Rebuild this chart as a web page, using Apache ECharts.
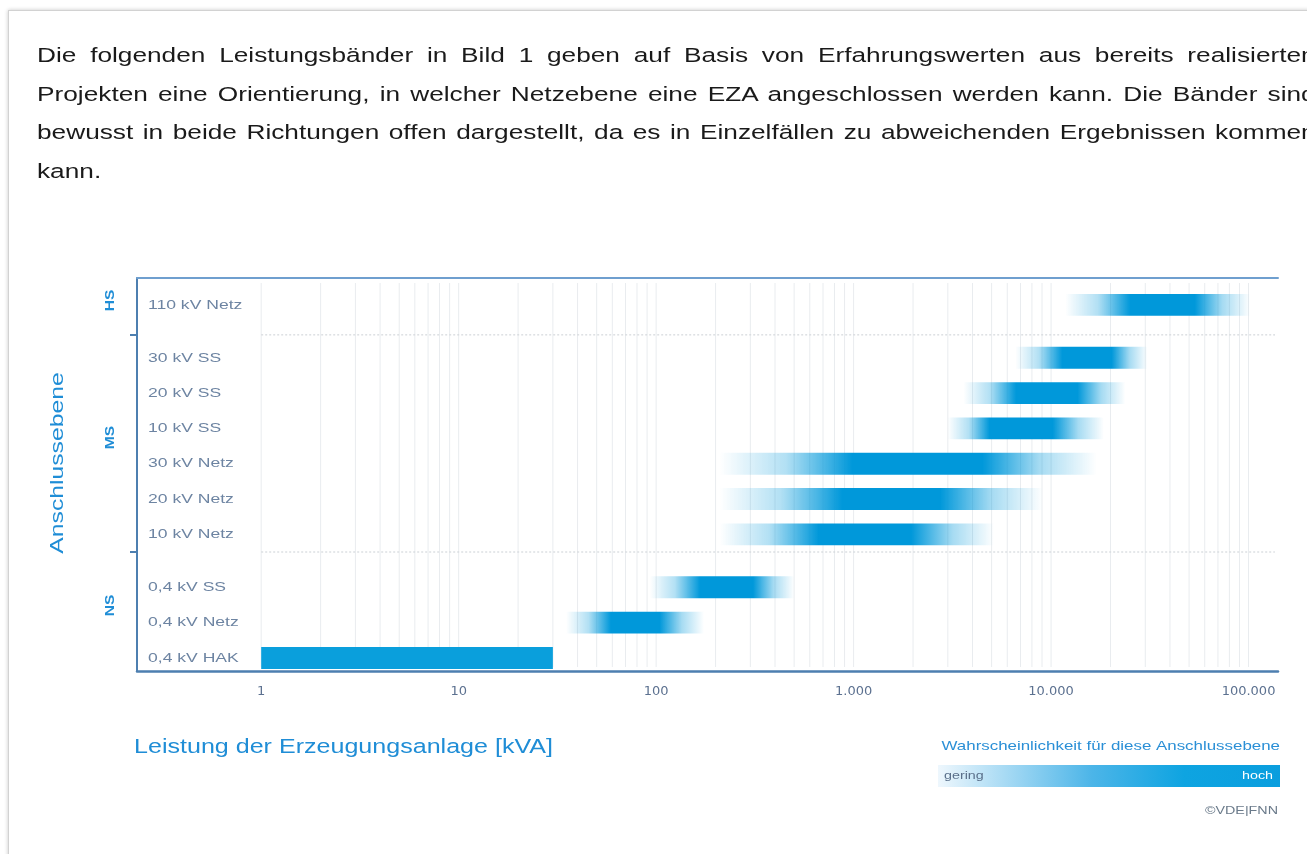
<!DOCTYPE html>
<html><head><meta charset="utf-8">
<script src="https://cdn.jsdelivr.net/npm/echarts@6/dist/echarts.min.js"></script>
<style>
html,body{margin:0;padding:0;width:1307px;height:854px;overflow:hidden;background:#fff;}
#frame{position:absolute;left:8px;top:10px;width:1400px;height:900px;border:1px solid #d2d2d2;box-shadow:0 0 4px rgba(0,0,0,0.22);z-index:0;}
#chart{position:absolute;left:0;top:0;width:1307px;height:854px;z-index:1;}
#para{position:absolute;left:37px;top:36px;width:999px;font-family:"Liberation Sans",Arial,sans-serif;font-size:20.5px;line-height:38.5px;color:#1a1a1a;z-index:2;transform:scaleX(1.28);transform-origin:0 0;}
#para div{text-align:justify;text-align-last:justify;white-space:nowrap;}
#para div.last{text-align-last:left;}
</style></head>
<body>
<div id="frame"></div>
<div id="chart"></div>
<div id="para">
<div>Die folgenden Leistungsbänder in Bild 1 geben auf Basis von Erfahrungswerten aus bereits realisierten</div>
<div>Projekten eine Orientierung, in welcher Netzebene eine EZA angeschlossen werden kann. Die Bänder sind</div>
<div>bewusst in beide Richtungen offen dargestellt, da es in Einzelfällen zu abweichenden Ergebnissen kommen</div>
<div class="last">kann.</div>
</div>
<script>
// ---- data ----
const rowsNS = ['0,4 kV HAK', '0,4 kV Netz', '0,4 kV SS'];
const rowsMS = ['10 kV Netz', '20 kV Netz', '30 kV Netz', '10 kV SS', '20 kV SS', '30 kV SS'];
const rowsHS = ['110 kV Netz'];
const groupNames = ['NS', 'MS', 'HS'];
// band extents in kVA (fade-in start, full intensity from, full intensity to, fade-out end)
const bandStart    = [1,  35,  93,  210,  210,  210,  3000,  3600,  6600, 11800];
const bandCoreFrom = [1,  59, 167,  665,  875,  985,  4880,  6650, 11400, 25200];
const bandCoreTo   = [30, 104, 310, 1960, 2750, 4500, 10200, 13600, 20300, 53500];
const bandEnd      = [30, 175, 500, 5150, 9100, 17000, 18500, 23800, 30800, 102000];
const xTickValues  = [1, 10, 100, 1000, 10000, 100000];

// ---- layout constants ----
const xAxisMinKVA = 0.235, xAxisMaxKVA = 141000;
const yMin = -0.37, yMax = 10.76;
const separatorPos = [3.0, 9.15];

// ---- derived ----
const groups = [rowsNS, rowsMS, rowsHS];
const rowPos = [], rowName = [];
let idx = 0;
groups.forEach((g, gi) => {
  g.forEach(n => { rowPos.push(idx + 0.5 * gi); rowName.push(n); idx++; });
});
const lg = v => Math.log10(v);
const xMin = lg(xAxisMinKVA), xMax = lg(xAxisMaxKVA);
const fmt = n => String(n).replace(/\B(?=(\d{3})+(?!\d))/g, '.');

const bandData = rowPos.map((p, i) => [p, lg(bandStart[i]), lg(bandCoreFrom[i]), lg(bandCoreTo[i]), lg(bandEnd[i])]);
const labelData = rowPos.map((p, i) => [p, i]);
const gridVals = [];
for (let k = 0; k < 5; k++) for (let m = 1; m < 10; m++) gridVals.push([lg(m * Math.pow(10, k))]);
gridVals.push([lg(100000)]);

const FONT = '"Liberation Sans", Arial, sans-serif';
const SX = 1.3;
const AXIS = '#4d7fb0';
const BLUE = '#1f8dd6';

const chart = echarts.init(document.getElementById('chart'), null, {renderer: 'canvas'});
const option = {
  animation: false,
  backgroundColor: 'transparent',
  grid: {left: 137, right: 29, top: 278, bottom: 183, containLabel: false},
  xAxis: [{
    type: 'value', min: xMin, max: xMax,
    axisLine: {show: true, onZero: false, lineStyle: {color: AXIS, width: 2.5}},
    axisTick: {show: false},
    splitLine: {show: false},
    axisLabel: {
      customValues: xTickValues.map(lg),
      formatter: v => fmt(Math.round(Math.pow(10, v))),
      color: '#5c7190', fontFamily: '"DejaVu Sans", sans-serif', fontSize: 13, margin: 14
    }
  }, {
    type: 'value', min: xMin, max: xMax, position: 'top',
    axisLine: {show: true, onZero: false, lineStyle: {color: '#6f9fcf', width: 2}},
    axisTick: {show: false}, axisLabel: {show: false}, splitLine: {show: false}
  }],
  yAxis: {
    type: 'value', min: yMin, max: yMax,
    axisLine: {show: true, onZero: false, lineStyle: {color: AXIS, width: 2}},
    axisTick: {show: true, customValues: separatorPos, length: 7, lineStyle: {color: AXIS, width: 2}},
    splitLine: {show: false},
    axisLabel: {show: false}
  },
  series: [{
    type: 'custom', name: 'grid', silent: true, z: 1,
    data: gridVals,
    renderItem: (params, api) => {
      const a = api.coord([api.value(0), yMin]);
      const b = api.coord([api.value(0), yMax]);
      return {type: 'line', shape: {x1: a[0], y1: a[1] - 4, x2: b[0], y2: b[1] + 5}, style: {stroke: '#e9ecef', lineWidth: 1}};
    }
  }, {
    type: 'custom', name: 'sep', silent: true, z: 2,
    data: separatorPos.map(s => [s]),
    renderItem: (params, api) => {
      const a = api.coord([0, api.value(0)]);
      const b = api.coord([xMax, api.value(0)]);
      return {type: 'line', shape: {x1: a[0], y1: a[1], x2: b[0] - 3, y2: b[1]}, style: {stroke: '#d4d8dc', lineWidth: 1.2, lineDash: [2, 2]}};
    }
  }, {
    type: 'custom', name: 'bands', z: 3,
    data: bandData,
    renderItem: (params, api) => {
      const y = api.value(0);
      const p0 = api.coord([api.value(1), y]);
      const p1 = api.coord([api.value(2), y]);
      const p2 = api.coord([api.value(3), y]);
      const p3 = api.coord([api.value(4), y]);
      const h = api.size([0, 1])[1] * 0.62;
      const w = p3[0] - p0[0];
      const f1 = (p1[0] - p0[0]) / w, f2 = (p2[0] - p0[0]) / w;
      const c = 'rgba(0,152,218,';
      const stops = f1 <= 0.001 && f2 >= 0.999
        ? [{offset: 0, color: '#0a9fdc'}, {offset: 1, color: '#0a9fdc'}]
        : [{offset: 0, color: c + '0)'}, {offset: f1 * 0.5, color: c + '0.3)'}, {offset: f1, color: c + '1)'},
           {offset: f2, color: c + '1)'}, {offset: f2 + (1 - f2) * 0.5, color: c + '0.35)'}, {offset: 1, color: c + '0)'}];
      return {
        type: 'rect',
        shape: {x: p0[0], y: p0[1] - h / 2, width: w, height: h},
        style: {fill: new echarts.graphic.LinearGradient(0, 0, 1, 0, stops)}
      };
    }
  }, {
    type: 'custom', name: 'rowLabels', silent: true, z: 4,
    data: labelData,
    renderItem: (params, api) => {
      const p = api.coord([xMin, api.value(0)]);
      return {type: 'text', x: p[0] + 11, y: p[1], scaleX: SX,
        style: {text: rowName[api.value(1)], fill: '#6d84a2', font: '13.5px ' + FONT, align: 'left', verticalAlign: 'middle'}};
    }
  }]
};
chart.setOption(option);

// positioned texts
const yPix = v => chart.convertToPixel({yAxisIndex: 0}, v);
const bounds = [yMin].concat(separatorPos, [yMax]);
const elements = [];
groupNames.forEach((g, i) => {
  const c = yPix((bounds[i] + bounds[i + 1]) / 2);
  elements.push({type: 'text', x: 111, y: c - 6, rotation: Math.PI / 2, scaleX: SX,
    style: {text: g, fill: BLUE, font: 'bold 12px ' + FONT, align: 'center', verticalAlign: 'middle'}});
});
elements.push({type: 'text', x: 58, y: 463, rotation: Math.PI / 2, scaleX: SX,
  style: {text: 'Anschlussebene', fill: BLUE, font: '19px ' + FONT, align: 'center', verticalAlign: 'middle'}});
elements.push({type: 'text', x: 134, y: 748, scaleX: SX,
  style: {text: 'Leistung der Erzeugungsanlage [kVA]', fill: BLUE, font: '19.3px ' + FONT, align: 'left', verticalAlign: 'middle'}});
elements.push({type: 'text', x: 1280, y: 746, scaleX: SX,
  style: {text: 'Wahrscheinlichkeit für diese Anschlussebene', fill: '#2a8fd6', font: '13px ' + FONT, align: 'right', verticalAlign: 'middle'}});
elements.push({type: 'rect', shape: {x: 938, y: 765, width: 342, height: 22},
  style: {fill: new echarts.graphic.LinearGradient(0, 0, 1, 0, [
    {offset: 0, color: '#eef7fd'}, {offset: 0.45, color: '#4cb5e8'}, {offset: 0.72, color: '#0ea4e1'}, {offset: 1, color: '#0a9ede'}])}});
elements.push({type: 'text', x: 944, y: 776, scaleX: SX,
  style: {text: 'gering', fill: '#5a6f8a', font: '11px ' + FONT, align: 'left', verticalAlign: 'middle'}});
elements.push({type: 'text', x: 1273, y: 776, scaleX: SX,
  style: {text: 'hoch', fill: '#ffffff', font: '11px ' + FONT, align: 'right', verticalAlign: 'middle'}});
elements.push({type: 'text', x: 1278, y: 811, scaleX: SX,
  style: {text: '©VDE|FNN', fill: '#6a7a8a', font: '11px ' + FONT, align: 'right', verticalAlign: 'middle'}});
chart.setOption({graphic: {elements: elements}});
</script>
</body></html>
